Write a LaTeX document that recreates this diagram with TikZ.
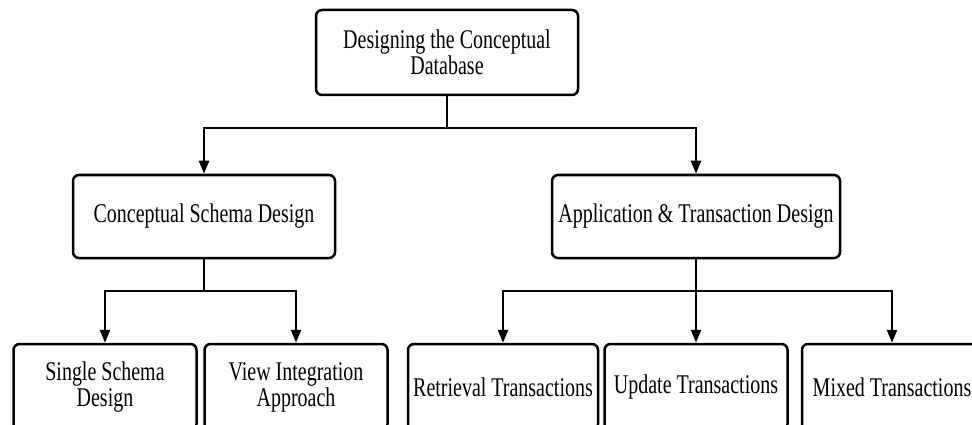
\documentclass[tikz,border=0pt]{standalone}
\usepackage{fontspec}
\setmainfont{Liberation Serif}[FakeStretch=0.74]
\usetikzlibrary{arrows.meta}
\tikzset{
	box/.style={
			draw, line width=2.5pt, rounded corners=6pt, align=center,
			inner sep=2pt, font=\fontsize{27}{26}\selectfont
		},
	link/.style={line width=2.5pt},
	arr/.style={link, -{Triangle[length=13pt,width=10pt]}}
}

\begin{document}
\begin{tikzpicture}[x=1pt, y=-1pt]
			\useasboundingbox (0,0) rectangle (972,425);
			\clip (0,0) rectangle (972,425);

			% Draw the top box
			\node[box, minimum width=262pt, minimum height=85pt] (top) at (447,52.5) {Designing the Conceptual\\Database};

			% Draw the two design boxes
			\node[box, minimum width=262pt, minimum height=83pt] (schema) at (204,216.5) {Conceptual Schema Design};
			\node[box, minimum width=288pt, minimum height=83pt] (appl) at (696,216.5) {Application \& Transaction Design};

			% Draw the bottom boxes
			\node[box, minimum width=183pt, minimum height=86pt] (single) at (105,387) {Single Schema\\Design};
			\node[box, minimum width=183pt, minimum height=86pt] (view) at (296,387) {View Integration\\Approach};
			\node[box, minimum width=190pt, minimum height=86pt] (retr) at (503,387) {Retrieval Transactions};
			\node[box, minimum width=183pt, minimum height=86pt] (upd) at (696,387) {Update Transactions};
			\node[box, minimum width=180pt, minimum height=86pt] (mixed) at (892,387) {Mixed Transactions};

			% Branch points
			\coordinate (j1) at (447,128);
			\coordinate (j2) at (204,291);
			\coordinate (j3) at (696,291);

			% Draw the arrows
			\draw[link] (top.south) -- (j1);
			\draw[arr] (j1) -| (schema.north);
			\draw[arr] (j1) -| (appl.north);

			\draw[link] (schema.south) -- (j2);
			\draw[arr] (j2) -| (single.north);
			\draw[arr] (j2) -| (view.north);

			\draw[arr] (appl.south) -- (upd.north);
			\draw[arr] (j3) -| (retr.north);
			\draw[arr] (j3) -| (mixed.north);
		\end{tikzpicture}
\end{document}
